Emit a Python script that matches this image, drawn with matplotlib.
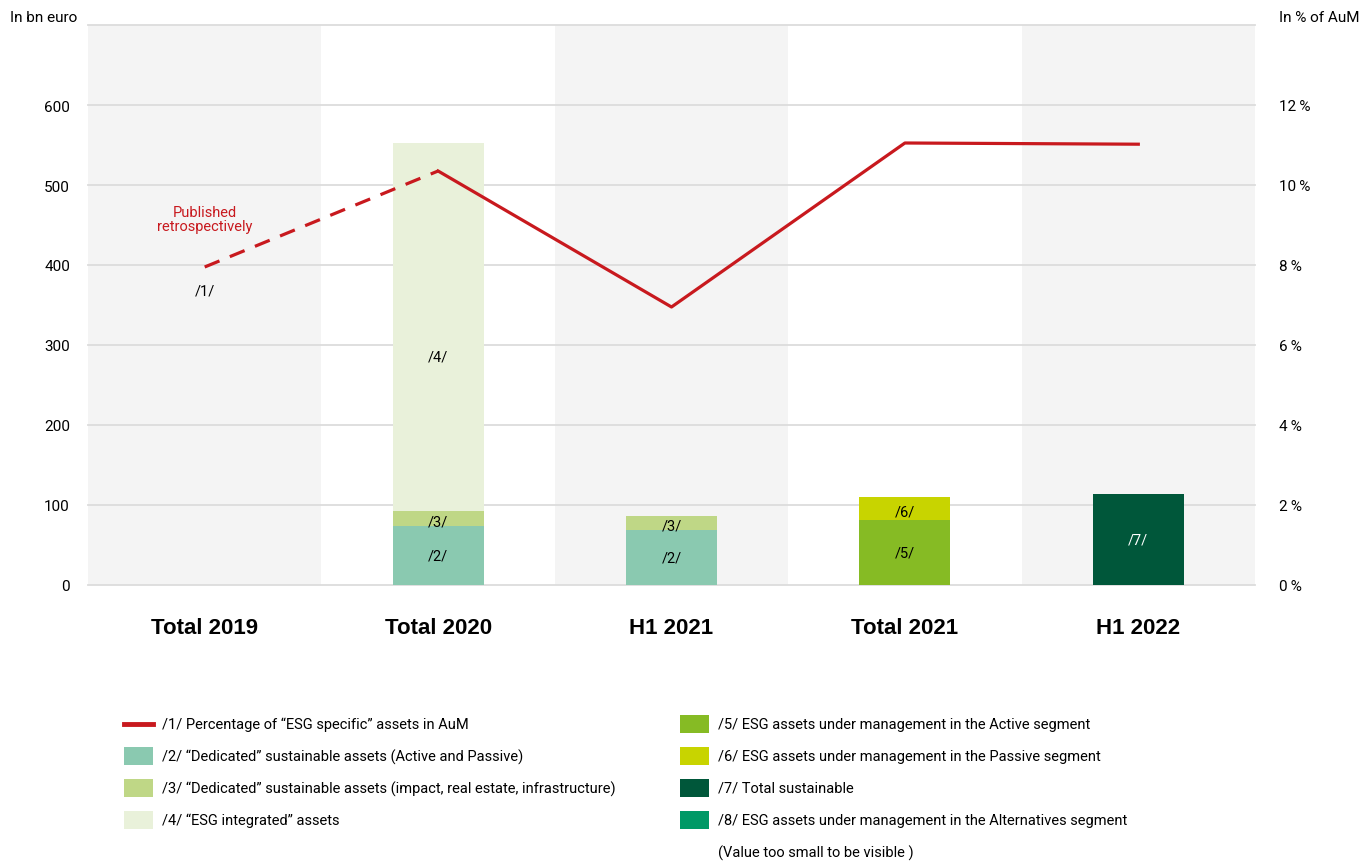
import matplotlib
matplotlib.use("Agg")
from matplotlib import pyplot as plt
from matplotlib.patches import Rectangle
from matplotlib.lines import Line2D
import numpy as np

# ---- data
categories = ['Total 2019', 'Total 2020', 'H1 2021', 'Total 2021', 'H1 2022']
dedicated_ap = [0, 74, 69, 0, 0]        # /2/
dedicated_ire = [0, 18.5, 17.5, 0, 0]   # /3/
esg_integrated = [0, 460, 0, 0, 0]      # /4/
esg_active = [0, 0, 0, 81, 0]           # /5/
esg_passive = [0, 0, 0, 29, 0]          # /6/
total_sust = [0, 0, 0, 0, 114]          # /7/
pct_esg = [7.95, 10.35, 6.95, 11.05, 11.02]  # /1/ in % of AuM

legend_left = ['/1/ Percentage of \u201cESG specific\u201d assets in AuM',
               '/2/ \u201cDedicated\u201d sustainable assets (Active and Passive)',
               '/3/ \u201cDedicated\u201d sustainable assets (impact, real estate, infrastructure)',
               '/4/ \u201cESG integrated\u201d assets']
legend_right = ['/5/ ESG assets under management in the Active segment',
                '/6/ ESG assets under management in the Passive segment',
                '/7/ Total sustainable',
                '/8/ ESG assets under management in the Alternatives segment']

c_line = '#c8191e'
c2, c3, c4 = '#8ac9b0', '#bfd786', '#e9f1da'
c5, c6, c7, c8 = '#86bb24', '#c8d400', '#00573a', '#009966'

plt.rcParams['font.family'] = ['Roboto', 'DejaVu Sans']
fs = 10.5

fig = plt.figure(figsize=(13.68, 8.62), dpi=100)
ax = fig.add_axes([88/1368, 1-586/862, (1255-88)/1368, (586-26)/862])
ax2 = ax.twinx()

x = np.arange(len(categories))
w = 0.39

# background bands
for i in x:
	if i % 2 == 0:
		ax.axvspan(i-0.5, i+0.5, color='#f4f4f4', zorder=0, lw=0)

for yv in range(0, 701, 100):
	ax.axhline(yv, color='#dcdcdc', lw=1.3, zorder=1, clip_on=False)

b = np.zeros(len(categories))
stacks = [(dedicated_ap, c2, '/2/', 'k'), (dedicated_ire, c3, '/3/', 'k'),
          (esg_integrated, c4, '/4/', 'k'), (esg_active, c5, '/5/', 'k'),
          (esg_passive, c6, '/6/', 'k'), (total_sust, c7, '/7/', 'white')]
for vals, col, lab, tc in stacks:
	vals = np.array(vals, dtype=float)
	ax.bar(x, vals, w, bottom=b, color=col, zorder=2)
	for i in x:
		if vals[i] > 0:
			yl = b[i] + vals[i]/2
			if vals[i] < 30:
				yl -= 4
			if vals[i] > 300:
				yl = b[i] + vals[i]*0.42
			ax.text(i, yl, lab, ha='center', va='center', fontsize=fs, color=tc, zorder=3)
	b = b + vals

ax.set_xlim(-0.5, 4.5)
ax.set_ylim(0, 700)
ax2.set_ylim(0, 14)

# line: dashed for retrospective part, solid afterwards
ax2.plot(x[:2], pct_esg[:2], color=c_line, lw=2.3, ls=(0, (5, 3.5)), zorder=4)
ax2.plot(x[1:], pct_esg[1:], color=c_line, lw=2.3, zorder=4)
ax2.text(0, pct_esg[0]-0.6, '/1/', ha='center', va='center', fontsize=fs)
ax2.text(0, 9.15, 'Published\nretrospectively', ha='center', va='center', fontsize=fs,
         color=c_line, linespacing=1.05)

ax.set_yticks(range(0, 601, 100))
ax.set_yticklabels([str(v) for v in range(0, 601, 100)], fontsize=11)
ax2.set_yticks(range(0, 13, 2))
ax2.set_yticklabels([f'{v}\u2009%' for v in range(0, 13, 2)], fontsize=11)
ax.set_xticks(x)
ax.set_xticklabels(categories, fontsize=16, fontweight='bold', family='Liberation Sans')
ax.tick_params(axis='x', length=0, pad=23)
ax.tick_params(axis='y', length=0, pad=13)
ax2.tick_params(axis='y', length=0, pad=17)
for a in (ax, ax2):
	for s in a.spines.values():
		s.set_visible(False)
ax.set_zorder(ax2.get_zorder()-1)
ax2.patch.set_visible(False)
ax.patch.set_visible(False)

fig.text(10/1368, 1-18/862, 'In bn euro', fontsize=11, va='center')
fig.text(1279/1368, 1-18/862, 'In % of AuM', fontsize=11, va='center')

# legend
rows = [725, 757, 789, 821]
lcols = [None, c2, c3, c4]
for r, col, lab in zip(rows, lcols, legend_left):
	yf = 1 - r/862
	if col is None:
		fig.add_artist(Line2D([124/1368, 153/1368], [yf, yf], color=c_line, lw=3.5))
	else:
		fig.add_artist(Rectangle((124/1368, yf-9/862), 29/1368, 18/862, color=col, lw=0))
	fig.text(162/1368, yf, lab, fontsize=fs, va='center')
for r, col, lab in zip(rows, [c5, c6, c7, c8], legend_right):
	yf = 1 - r/862
	fig.add_artist(Rectangle((680/1368, yf-9/862), 29/1368, 18/862, color=col, lw=0))
	fig.text(718/1368, yf, lab, fontsize=fs, va='center')
fig.text(718/1368, 1-853/862, '(Value too small to be visible )', fontsize=fs, va='center')

fig.savefig('out.png', dpi=100)
